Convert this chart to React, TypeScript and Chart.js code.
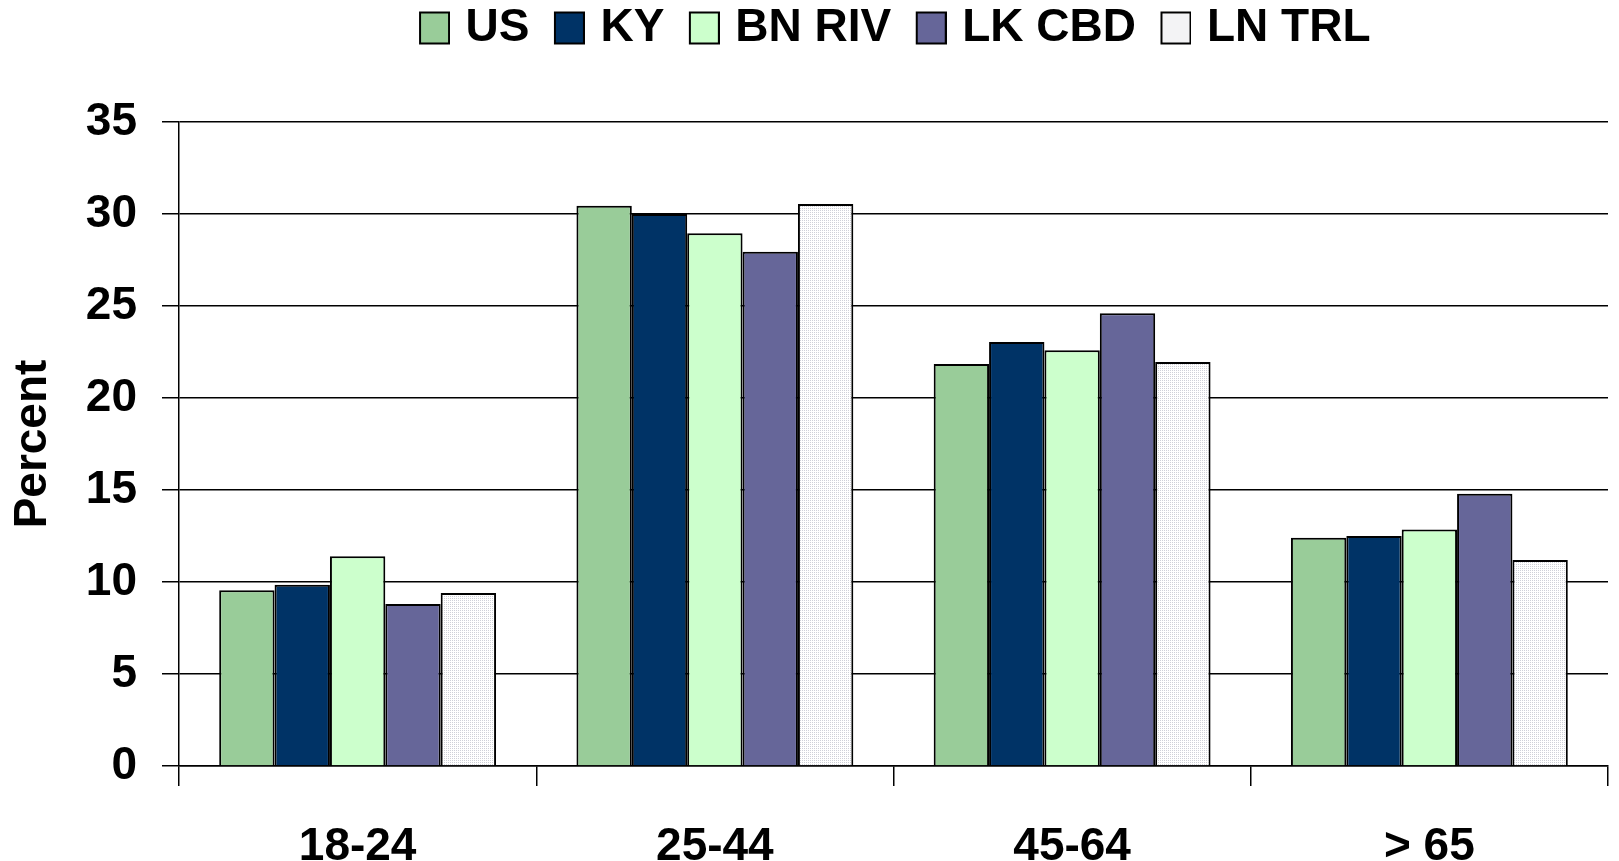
import React, { useEffect, useRef } from 'react';
import { Chart, registerables } from 'chart.js';

Chart.register(...registerables);

// ---- data ----
const categories = ['18-24', '25-44', '45-64', '> 65'];
const seriesNames = ['US', 'KY', 'BN RIV', 'LK CBD', 'LN TRL'];
const usValues = [9.55, 30.45, 21.85, 12.4];
const kyValues = [9.85, 30.0, 23.05, 12.5];
const bnRivValues = [11.4, 28.95, 22.6, 12.85];
const lkCbdValues = [8.8, 27.95, 24.6, 14.8];
const lnTrlValues = [9.4, 30.55, 21.95, 11.2];
const yMin = 0;
const yMax = 35;
const yStep = 5;
const yTitle = 'Percent';

const seriesValues = [usValues, kyValues, bnRivValues, lkCbdValues, lnTrlValues];
const solidColors = ['#99CC99', '#003366', '#CCFFCC', '#666699', null];

const FONT = "'Liberation Sans', Arial, Helvetica, sans-serif";
const LEGEND_GAP = 63;
const LEGEND_W = 45;
const LEGEND_IMG_W = 60;
const LEGEND_SHIFT_X = -9.5;
const LEGEND_SHIFT_Y = 2;

function makePattern(): CanvasPattern | string {
  const c = document.createElement('canvas');
  c.width = 2;
  c.height = 2;
  const ctx = c.getContext('2d');
  if (!ctx) return '#f4f4f6';
  ctx.fillStyle = '#ffffff';
  ctx.fillRect(0, 0, 2, 2);
  ctx.fillStyle = '#cfd0d8';
  ctx.fillRect(0, 0, 1, 1);
  const p = ctx.createPattern(c, 'repeat');
  return p || '#f4f4f6';
}

function makeLegendImage(fill: CanvasPattern | string): HTMLCanvasElement {
  const c = document.createElement('canvas');
  c.width = LEGEND_IMG_W;
  c.height = 35;
  const ctx = c.getContext('2d');
  if (ctx) {
    const bx = LEGEND_IMG_W - 31;
    ctx.fillStyle = fill as any;
    ctx.fillRect(bx, 1, 31, 33);
    ctx.strokeStyle = '#000000';
    ctx.lineWidth = 2;
    ctx.strokeRect(bx + 1, 2, 29, 31);
  }
  return c;
}

const legendSpacer = {
  id: 'legendSpacer',
  beforeInit(chart: any) {
    const lg = chart.legend;
    if (!lg) return;
    const orig = lg.fit;
    lg.fit = function () {
      orig.call(this);
      this.height += LEGEND_GAP;
    };
  },
  afterLayout(chart: any) {
    const lg = chart.legend;
    if (!lg) return;
    lg.left += LEGEND_SHIFT_X;
    lg.right += LEGEND_SHIFT_X;
    lg.top += LEGEND_SHIFT_Y;
    lg.bottom += LEGEND_SHIFT_Y;
  },
};

export default function App() {
  const ref = useRef<HTMLCanvasElement | null>(null);

  useEffect(() => {
    if (!ref.current) return;
    const pattern = makePattern();
    const fills = solidColors.map((c) => (c ? c : pattern));
    const legendImages = fills.map((f) => makeLegendImage(f as any));

    Chart.defaults.font.family = FONT;
    Chart.defaults.color = '#000000';

    const chart = new Chart(ref.current, {
      type: 'bar',
      data: {
        labels: categories,
        datasets: seriesNames.map((name, i) => ({
          label: name,
          data: seriesValues[i],
          backgroundColor: fills[i] as any,
          borderColor: '#000000',
          borderWidth: 2,
          categoryPercentage: 0.775,
          barPercentage: 1.0,
        })),
      },
      plugins: [legendSpacer],
      options: {
        responsive: false,
        animation: false,
        layout: { padding: { left: 0, right: 11, top: 0, bottom: 0 } },
        plugins: {
          tooltip: { enabled: false },
          legend: {
            position: 'top',
            fullSize: false,
            labels: {
              usePointStyle: true,
              pointStyleWidth: LEGEND_W,
              padding: 3,
              color: '#000000',
              font: { size: 46, weight: 'bold', family: FONT },
              generateLabels: (ch: any) => {
                const items = (Chart.defaults.plugins.legend.labels as any).generateLabels(ch);
                return items.map((it: any, i: number) => ({ ...it, pointStyle: legendImages[i] }));
              },
            },
          },
        },
        scales: {
          x: {
            offset: true,
            afterFit: (scale: any) => {
              scale.height = 95;
            },
            grid: {
              offset: true,
              drawOnChartArea: false,
              drawTicks: true,
              tickLength: 20,
              color: '#000000',
              lineWidth: 1.5,
            },
            border: { display: true, color: '#000000', width: 1.5 },
            ticks: {
              color: '#000000',
              padding: 38,
              font: { size: 46, weight: 'bold', family: FONT, lineHeight: 1 },
              maxRotation: 0,
              autoSkip: false,
            },
          },
          y: {
            min: yMin,
            max: yMax,
            afterFit: (scale: any) => {
              scale.width = 179;
            },
            grid: {
              color: '#000000',
              lineWidth: 1.5,
              tickLength: 17,
              drawTicks: true,
            },
            border: { display: true, color: '#000000', width: 1.5 },
            ticks: {
              stepSize: yStep,
              color: '#000000',
              padding: 25,
              font: { size: 46, weight: 'bold', family: FONT },
            },
            title: {
              display: true,
              text: yTitle,
              color: '#000000',
              font: { size: 46, weight: 'bold', family: FONT, lineHeight: 1 },
              padding: { top: 10, bottom: 30 },
            },
          },
        },
      },
    } as any);

    return () => {
      chart.destroy();
    };
  }, []);

  return (
    <div style={{ position: 'fixed', left: 0, top: 0, width: 1619, height: 861, background: '#ffffff' }}>
      <canvas ref={ref} width={1619} height={861} style={{ display: 'block' }} />
    </div>
  );
}
